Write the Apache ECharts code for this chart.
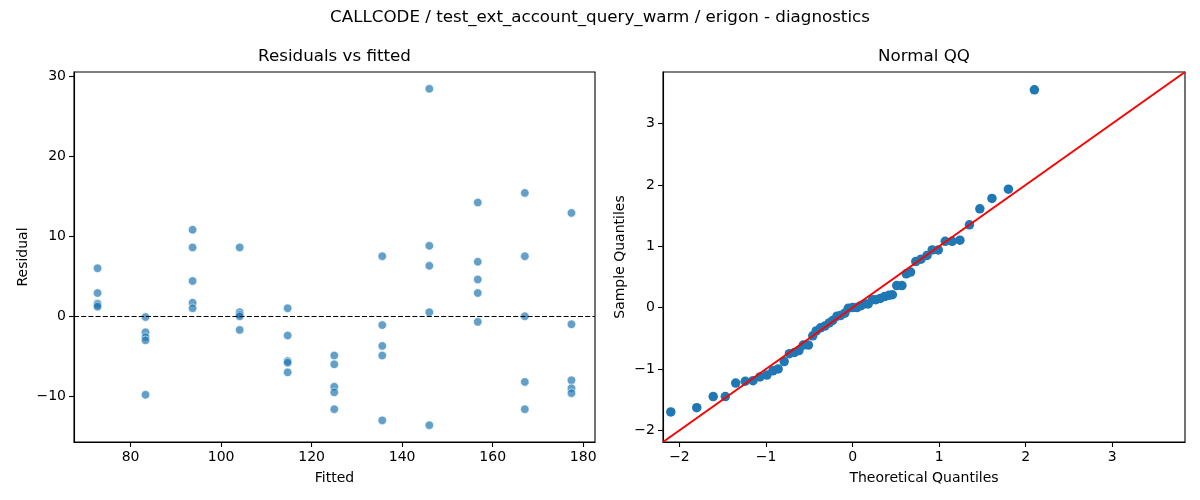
<!DOCTYPE html>
<html lang="en">
<head>
<meta charset="UTF-8">
<title>diagnostics</title>
<style>
  html, body { margin: 0; padding: 0; background: #fff; }
  #main { width: 1200px; height: 500px; }
</style>
</head>
<body>
<div id="main"></div>
<script src="https://cdn.jsdelivr.net/npm/echarts@6/dist/echarts.min.js"></script>
<script type="text/javascript">
var fitted = [72.7, 83.3, 93.7, 104.1, 114.7, 125.0, 135.6, 146.0, 156.7, 167.1, 177.4];
var resid = [
  [6.0, 2.9, 1.6, 1.4, 1.2],
  [-0.1, -2.0, -2.6, -3.0, -9.8],
  [10.8, 8.6, 4.4, 1.7, 1.0],
  [8.6, 0.5, 0.2, 0.0, -1.7],
  [1.0, -2.4, -5.6, -5.8, -7.0],
  [-4.9, -6.0, -8.8, -9.5, -11.6],
  [7.5, -1.1, -3.7, -4.9, -13.0],
  [28.4, 8.8, 6.3, 0.5, -13.6],
  [14.2, 6.8, 4.6, 2.9, -0.7],
  [15.4, 7.5, 0.0, -8.2, -11.6],
  [12.9, -1.0, -8.0, -9.0, -9.6]
];

// normal QQ points
var theoQ = [-2.10, -1.80, -1.61, -1.47, -1.35, -1.24, -1.15, -1.07, -0.99, -0.92,
  -0.86, -0.79, -0.73, -0.67, -0.62, -0.57, -0.51, -0.46, -0.42, -0.37,
  -0.32, -0.27, -0.23, -0.18, -0.14, -0.09, -0.05, 0.00, 0.05, 0.09,
  0.14, 0.18, 0.23, 0.27, 0.32, 0.37, 0.42, 0.46, 0.51, 0.57,
  0.62, 0.67, 0.73, 0.79, 0.86, 0.92, 0.99, 1.07, 1.15, 1.24,
  1.35, 1.47, 1.61, 1.80, 2.10];
var sampleQ = [-1.70, -1.63, -1.45, -1.45, -1.23, -1.20, -1.19, -1.13, -1.10, -1.03,
  -1.00, -0.88, -0.75, -0.73, -0.70, -0.61, -0.61, -0.46, -0.38, -0.33,
  -0.30, -0.25, -0.21, -0.14, -0.13, -0.09, -0.01, 0.00, 0.00, 0.03,
  0.06, 0.06, 0.13, 0.13, 0.15, 0.18, 0.20, 0.21, 0.36, 0.36,
  0.55, 0.58, 0.75, 0.79, 0.85, 0.94, 0.94, 1.08, 1.08, 1.10,
  1.35, 1.61, 1.78, 1.93, 3.55];

// axis limits and tick labels
var fitRange = [67.5, 182.6];
var residRange = [-15.7, 30.5];
var qqRange = [-2.19, 3.84];
var fitTicks = [80, 100, 120, 140, 160, 180];
var residTicks = [-10, 0, 10, 20, 30];
var qqTicks = [-2, -1, 0, 1, 2, 3];

var residPts = [];
for (var i = 0; i < fitted.length; i++) {
  for (var j = 0; j < resid[i].length; j++) {
    residPts.push([fitted[i], resid[i][j]]);
  }
}
var qqPts = [];
for (var k = 0; k < theoQ.length; k++) {
  qqPts.push([theoQ[k], sampleQ[k]]);
}

var FONT = 'DejaVu Sans';
var fmt = function (v) { return v < 0 ? '\u2212' + Math.abs(v) : String(v); };

function axis(range, ticks, name, gap, extra) {
  var a = {
    type: 'value',
    min: range[0],
    max: range[1],
    name: name,
    nameLocation: 'middle',
    nameGap: gap,
    nameTextStyle: { fontFamily: FONT, fontSize: 14, color: '#000' },
    axisLine: { show: true, onZero: false, lineStyle: { color: '#000', width: 1.1 } },
    axisTick: { show: true, length: 5, customValues: ticks, lineStyle: { color: '#000', width: 1.1 } },
    axisLabel: { customValues: ticks, fontFamily: FONT, fontSize: 14, color: '#000', margin: 8, formatter: fmt },
    splitLine: { show: false }
  };
  for (var key in extra) a[key] = extra[key];
  return a;
}

var myChart = echarts.init(document.getElementById('main'), null, { renderer: 'canvas' });
var option = {
  animation: false,
  backgroundColor: '#fff',
  title: [
    { text: 'CALLCODE / test_ext_account_query_warm / erigon - diagnostics', left: 600, top: 9, textAlign: 'center', padding: 0,
      textStyle: { fontFamily: FONT, fontSize: 16.7, fontWeight: 'normal', color: '#000' } },
    { text: 'Residuals vs fitted', left: 334.5, top: 48, textAlign: 'center', padding: 0,
      textStyle: { fontFamily: FONT, fontSize: 16.7, fontWeight: 'normal', color: '#000' } },
    { text: 'Normal QQ', left: 924, top: 48, textAlign: 'center', padding: 0,
      textStyle: { fontFamily: FONT, fontSize: 16.7, fontWeight: 'normal', color: '#000' } }
  ],
  grid: [
    { left: 74, right: 605, top: 72, bottom: 58, show: true, borderColor: '#000', borderWidth: 1.1 },
    { left: 663, right: 15, top: 72, bottom: 58, show: true, borderColor: '#000', borderWidth: 1.1 }
  ],
  xAxis: [
    axis(fitRange, fitTicks, 'Fitted', 29, { gridIndex: 0 }),
    axis(qqRange, qqTicks, 'Theoretical Quantiles', 29, { gridIndex: 1 })
  ],
  yAxis: [
    axis(residRange, residTicks, 'Residual', 44, { gridIndex: 0 }),
    axis(qqRange, qqTicks, 'Sample Quantiles', 36, { gridIndex: 1 })
  ],
  series: [
    {
      type: 'scatter', xAxisIndex: 0, yAxisIndex: 0,
      data: residPts,
      symbolSize: 8.5,
      itemStyle: { color: '#1f77b4', opacity: 0.7, borderColor: '#fff', borderWidth: 0.8 },
      markLine: {
        silent: true, symbol: 'none', label: { show: false },
        lineStyle: { color: '#000', width: 1.1, type: [5, 2.2] },
        data: [{ yAxis: 0 }]
      },
      z: 2
    },
    {
      type: 'scatter', xAxisIndex: 1, yAxisIndex: 1,
      data: qqPts,
      symbolSize: 9.5,
      itemStyle: { color: '#1f77b4', opacity: 1 },
      z: 2
    },
    {
      type: 'line', xAxisIndex: 1, yAxisIndex: 1,
      data: [[qqRange[0], qqRange[0]], [qqRange[1], qqRange[1]]],
      showSymbol: false, symbol: 'none',
      lineStyle: { color: '#ff0000', width: 2 },
      z: 3
    }
  ]
};
myChart.setOption(option);
</script>
</body>
</html>
